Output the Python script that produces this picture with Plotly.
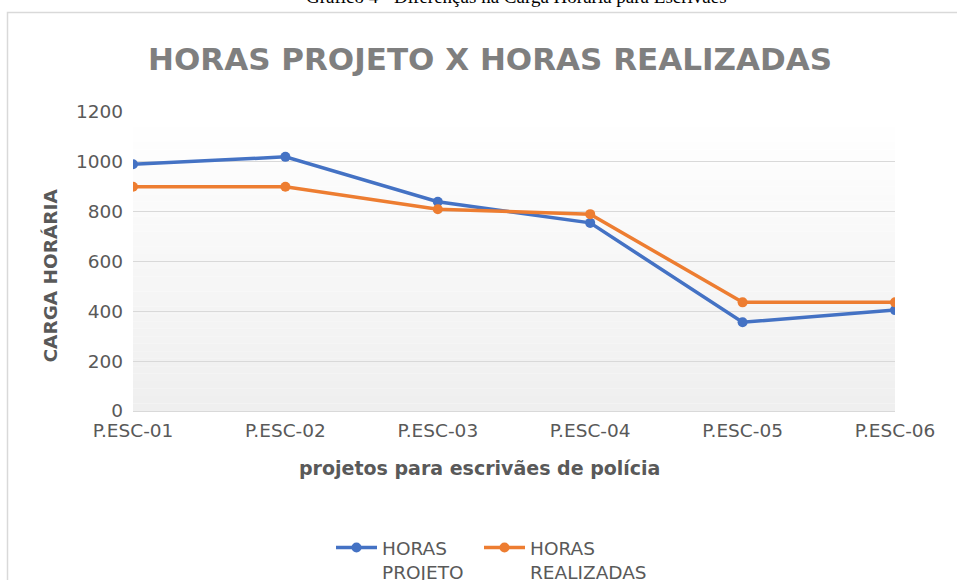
import plotly.graph_objects as go

categories = ["P.ESC-01", "P.ESC-02", "P.ESC-03", "P.ESC-04", "P.ESC-05", "P.ESC-06"]
horas_projeto = [990, 1020, 840, 755, 356, 405]
horas_realizadas = [900, 900, 810, 790, 436, 436]
y_ticks = [0, 200, 400, 600, 800, 1000, 1200]

W, H = 957, 580
L, R, T, B = 133, 62, 112, 169
PW, PH = W - L - R, H - T - B

def px(x):
    return (x - L) / PW

def py(y):
    return (H - B - y) / PH

FONT = "DejaVu Sans"
GRAY = "#595959"

fig = go.Figure()
fig.add_trace(go.Scatter(
    x=list(range(len(categories))), y=horas_projeto, mode="lines+markers",
    name="HORAS<br>PROJETO", legend="legend",
    line=dict(color="#4472C4", width=3.5),
    marker=dict(color="#4472C4", size=10),
))
fig.add_trace(go.Scatter(
    x=list(range(len(categories))), y=horas_realizadas, mode="lines+markers",
    name="HORAS<br>REALIZADAS", legend="legend2",
    line=dict(color="#ED7D31", width=3.5),
    marker=dict(color="#ED7D31", size=10),
))

shapes = []
# gradient plot background
n = 40
for i in range(n):
    t = i / (n - 1)
    c = int(round(255 - (255 - 239) * t))
    shapes.append(dict(
        type="rect", xref="paper", yref="paper",
        x0=0, x1=1, y0=1 - (i + 1) / n, y1=1 - i / n,
        fillcolor=f"rgb({c},{c},{c})", line=dict(width=0), layer="below",
    ))
# chart border
shapes.append(dict(
    type="rect", xref="paper", yref="paper",
    x0=px(7.5), x1=px(1000), y0=py(12.5), y1=py(650),
    line=dict(color="#d9d9d9", width=1.5), fillcolor="rgba(0,0,0,0)", layer="below",
))

annotations = [
    dict(text="Gráfico 4 - Diferenças na Carga Horária para Escrivães",
         xref="paper", yref="paper", x=px(516), y=py(9),
         xanchor="center", yanchor="bottom", showarrow=False,
         font=dict(family="Liberation Serif", size=19, color="#000000")),
    dict(text="<b>HORAS PROJETO X HORAS REALIZADAS</b>",
         xref="paper", yref="paper", x=px(489.5), y=py(59),
         xanchor="center", yanchor="middle", showarrow=False,
         font=dict(family=FONT, size=31, color="#7f7f7f")),
    dict(text="<b>projetos para escrivães de polícia</b>",
         xref="paper", yref="paper", x=px(479.5), y=py(468),
         xanchor="center", yanchor="middle", showarrow=False,
         font=dict(family=FONT, size=19, color=GRAY)),
    dict(text="<b>CARGA HORÁRIA</b>",
         xref="paper", yref="paper", x=px(50), y=py(275.5),
         xanchor="center", yanchor="middle", showarrow=False, textangle=-90,
         font=dict(family=FONT, size=18.5, color=GRAY)),
]

legend_common = dict(
    orientation="h", yanchor="top", xanchor="left",
    font=dict(family=FONT, size=18.5, color=GRAY),
    bgcolor="rgba(0,0,0,0)", valign="top", itemwidth=41,
)

fig.update_layout(
    width=W, height=H,
    margin=dict(l=L, r=R, t=T, b=B, autoexpand=False),
    paper_bgcolor="white",
    plot_bgcolor="rgba(0,0,0,0)",
    font=dict(family=FONT, size=18.5, color=GRAY),
    shapes=shapes,
    annotations=annotations,
    showlegend=True,
    legend=dict(x=px(331), y=py(529), **legend_common),
    legend2=dict(x=px(479), y=py(529), **legend_common),
    xaxis=dict(
        range=[0, len(categories) - 1], showgrid=False, zeroline=False,
        showline=False, ticks="", tickfont=dict(size=18.5, color=GRAY),
        tickmode="array", tickvals=list(range(len(categories))), ticktext=categories,
        fixedrange=True, automargin=False, ticklabelstandoff=6,
    ),
    yaxis=dict(
        range=[0, 1200], tickvals=y_ticks, showgrid=True, gridcolor="#d9d9d9",
        gridwidth=1, zeroline=True, zerolinecolor="#d9d9d9", zerolinewidth=1,
        showline=False, ticks="", tickfont=dict(size=18.5, color=GRAY),
        ticklabelstandoff=9, automargin=False,
    ),
)

fig.write_html(
    "out.html",
    config={"displayModeBar": False},
    post_script="document.body.style.margin='0';document.body.style.overflow='hidden';",
)
